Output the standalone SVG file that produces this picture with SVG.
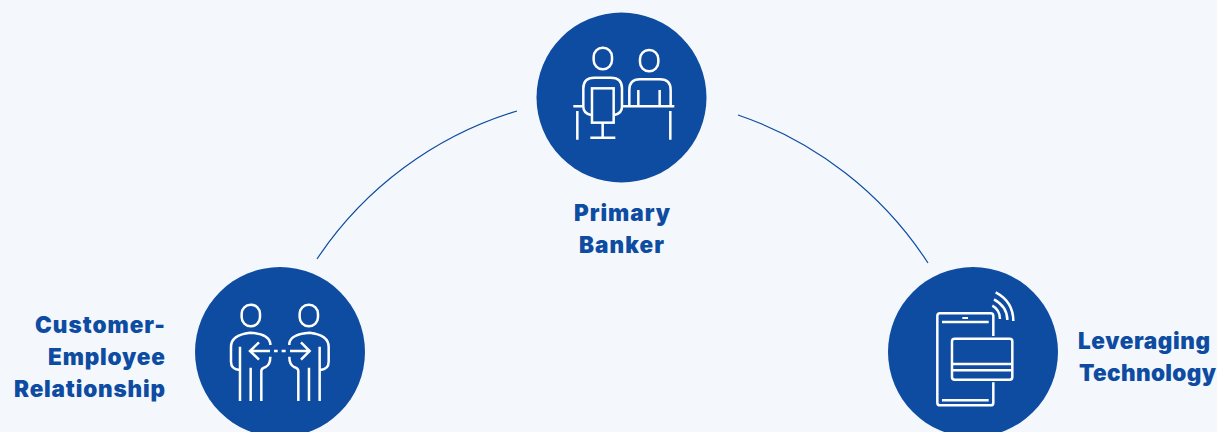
<svg xmlns="http://www.w3.org/2000/svg" width="1217" height="432" viewBox="0 0 1217 432">
<style>
.bg{fill:#f4f8fd}
.disc{fill:#0e4ca2}
.ico{fill:none;stroke:#fff;stroke-width:7.5}
.link{fill:none;stroke:#0e4ca2;stroke-width:1.2}
.lbl{font-family:"Inter","Liberation Sans",sans-serif;font-weight:900;font-size:22.5px;fill:#0e4ca2}
</style>
<rect class="bg" width="1217" height="432"/>
<g id="connectors">
<path class="link" d="M317 259A368 368 0 0 1 517 111"/>
<path class="link" d="M738 115A368 368 0 0 1 928 263"/>
</g>
<g id="primary-banker">
<circle class="disc" cx="621.5" cy="97.5" r="85"/>
<g class="ico" transform="translate(536 10) scale(.3333)">
<rect x="173" y="113" width="55" height="65" rx="27"/>
<rect x="312" y="120" width="55" height="64" rx="27"/>
<path d="M165 315Q142 310 142 290V235Q142 203 175 203H225Q258 203 258 235V290Q258 310 235 315"/>
<rect x="168" y="235" width="65" height="103"/>
<path d="M200 338V383M163 383H238M112 289H140M258 289H415M124 303V389M403 303V389"/>
<path d="M280 289V240Q280 208 312 208H372Q404 208 404 240V289M307 240V285M371 240V285"/>
</g>
<text class="lbl" x="574" y="221" textLength="96">Primary</text>
<text class="lbl" x="579" y="253" textLength="85">Banker</text>
</g>
<g id="customer-employee">
<circle class="disc" cx="280" cy="352" r="85"/>
<g class="ico" transform="translate(195 265) scale(.3333)">
<rect x="140" y="119" width="55" height="65" rx="27"/>
<rect x="314" y="119" width="55" height="65" rx="27"/>
<path d="M226 240V235Q222 207 165 203Q108 210 108 245V290Q108 312 133 315M135 408V245M167 408V308M199 408V318Q199 310 212 306Q226 298 226 275"/>
<path d="M283 240V235Q287 207 344 203Q401 210 401 245V290Q401 312 376 315M374 408V245M342 408V308M310 408V318Q310 310 297 306Q283 298 283 275"/>
<path d="M165 258H225M192 232L165 258L192 284M237 258H248M260 258H272M285 258H344M318 232L344 258L318 284"/>
</g>
<text class="lbl" x="35" y="333" textLength="130">Customer-</text>
<text class="lbl" x="48" y="365" textLength="117">Employee</text>
<text class="lbl" x="14" y="397" textLength="151">Relationship</text>
</g>
<g id="leveraging-technology">
<circle class="disc" cx="973" cy="352" r="85"/>
<g class="ico" transform="translate(888 265) scale(.3333)">
<path d="M316 213V153Q316 145 308 145H156Q148 145 148 153V413Q148 421 156 421H308Q316 421 316 413V352"/>
<path d="M162 171H302M162 406H302M192 297H373M192 316H373"/>
<rect x="223" y="156" width="17" height="6" fill="#fff" stroke="none"/>
<rect x="192" y="221" width="181" height="123" rx="8"/>
<path d="M323 82Q376 110 376 168M318 103Q358 125 358 165M313 122Q336 135 336 162"/>
</g>
<text class="lbl" x="1078" y="349" textLength="132">Leveraging</text>
<text class="lbl" x="1079" y="381" textLength="137">Technology</text>
</g>
</svg>
